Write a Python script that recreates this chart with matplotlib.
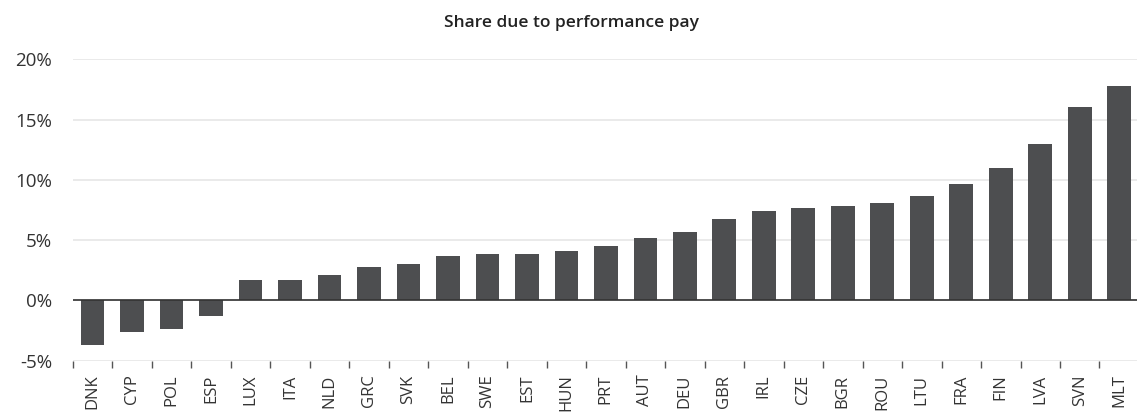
import matplotlib.pyplot as plt
from matplotlib.ticker import FuncFormatter
import numpy as np

plt.rcParams['font.family'] = ['Open Sans', 'DejaVu Sans']

countries = ['DNK', 'CYP', 'POL', 'ESP', 'LUX', 'ITA', 'NLD', 'GRC', 'SVK',
             'BEL', 'SWE', 'EST', 'HUN', 'PRT', 'AUT', 'DEU', 'GBR', 'IRL',
             'CZE', 'BGR', 'ROU', 'LTU', 'FRA', 'FIN', 'LVA', 'SVN', 'MLT']
share = [-3.7, -2.6, -2.35, -1.3, 1.7, 1.7, 2.1, 2.8, 3.0,
         3.7, 3.85, 3.85, 4.1, 4.5, 5.2, 5.65, 6.75, 7.4,
         7.65, 7.8, 8.05, 8.7, 9.65, 11.0, 12.95, 16.05, 17.75]
yticks = [-5, 0, 5, 10, 15, 20]

fig = plt.figure(figsize=(11.37, 4.13), dpi=100)
ax = fig.add_axes([0.064, 0.1266, 0.936, 0.7298])

x = np.arange(len(countries))
ax.bar(x, share, width=0.6, color='#4d4e50', zorder=3)

ax.set_xlim(-0.5, 26.45)
ax.set_ylim(-5, 20)
ax.set_yticks(yticks)
ax.yaxis.set_major_formatter(FuncFormatter(lambda v, p: f'{v:.0f}%'))
ax.grid(axis='y', color='#e6e6e6', linewidth=1.2, zorder=0)
ax.axhline(0, color='#333333', linewidth=1.2, zorder=4)

ax.set_xticks(x)
ax.set_xticklabels(countries, rotation=90)
ax.set_xticks(x - 0.5, minor=True)
ax.tick_params(axis='x', which='major', length=0, pad=10, labelsize=12, colors='#333333')
ax.tick_params(axis='x', which='minor', length=5, color='#555555', width=1)
ax.tick_params(axis='y', length=0, pad=15, labelsize=13.5, colors='#333333')

for s in ax.spines.values():
    s.set_visible(False)

fig.text(0.503, 0.944, 'Share due to performance pay', fontsize=12.5,
         fontweight='semibold', color='#222222', ha='center', va='center')

fig.savefig('out.png', dpi=100)
